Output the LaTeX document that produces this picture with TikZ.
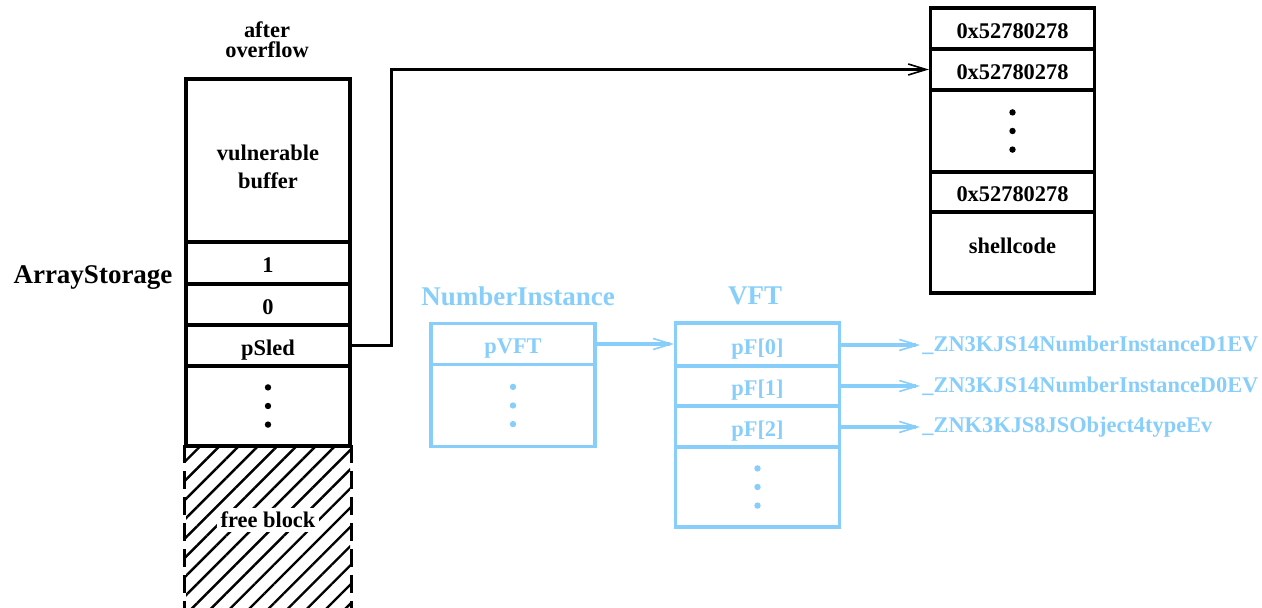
\documentclass[tikz,border=0pt]{standalone}
\usepackage{fontspec}
\setmainfont{Liberation Serif}
\usepackage{tikz}
\usetikzlibrary{arrows.meta,patterns.meta,positioning}
\definecolor{tikzsky}{RGB}{135,206,250}

\begin{document}
\begin{tikzpicture}[
        x=0.5pt, y=-0.5pt,
        cell/.style={draw, line width=1.6pt, minimum width=82pt, inner sep=0pt, align=center, text height=10pt, text depth=0pt, font=\fontsize{11.2}{14}\selectfont\bfseries},
        vcell/.style={cell, draw=tikzsky, text=tikzsky},
        title/.style={inner sep=0pt, font=\fontsize{13.5}{16}\selectfont\bfseries},
        sym/.style={anchor=west, inner sep=1pt, text=tikzsky, font=\fontsize{11.2}{14}\selectfont\bfseries},
        arrow/.style={line width=1.6pt, -{Straight Barb[length=9pt,width=5.5pt,line width=0.8pt]}},
        varrow/.style={arrow, draw=tikzsky}
    ]
        \useasboundingbox (0,0) rectangle (1262,608);

        % ArrayStorage after overflow
        \node[font=\fontsize{11.2}{10}\selectfont\bfseries, align=center] (after) at (267,40) {after\\overflow};
        \node[title] (arraystorage) at (93,278) {ArrayStorage};
        \node[cell, text height=0pt, text depth=0pt, minimum height=81.5pt] (buf) at (268,160.5) {\raisebox{-6.8pt}[0pt][0pt]{\begin{tabular}{@{}c@{}}vulnerable\\buffer\end{tabular}}};
        \node[cell, minimum height=21pt] (one) at (268,263) {1};
        \node[cell, minimum height=20.5pt] (zero) at (268,304.5) {0};
        \node[cell, minimum height=20.5pt] (psled) at (268,345.5) {pSled};
        \node[cell, minimum height=40pt] (adots) at (268,406) {};

        % free block
        \node[minimum width=82pt, minimum height=81pt, inner sep=0pt, pattern={Lines[angle=45,distance=6.8pt,line width=1.2pt]}] (free) at (268,527) {};
        \draw[line width=1.6pt, dash pattern=on 9pt off 4pt] (free.north west) -- (free.south west);
        \draw[line width=1.6pt, dash pattern=on 9pt off 4pt] (free.north east) -- (free.south east);
        \node[fill=white, inner sep=2pt, font=\fontsize{11.2}{14}\selectfont\bfseries] (freetext) at (268,520) {free block};

        % sled and shellcode
        \node[cell, minimum height=20.5pt] (sled1) at (1012.5,28.5) {0x52780278};
        \node[cell, minimum height=20.5pt] (sled2) at (1012.5,69.5) {0x52780278};
        \node[cell, minimum height=41pt] (rdots) at (1012.5,131) {};
        \node[cell, minimum height=20pt] (sled3) at (1012.5,192) {0x52780278};
        \node[cell, minimum height=40.5pt] (shell) at (1012.5,252.5) {\raisebox{4.6pt}{shellcode}};

        % NumberInstance
        \node[title, text=tikzsky] (nititle) at (518,296) {NumberInstance};
        \node[vcell, minimum height=20.5pt] (pvft) at (513,344) {pVFT};
        \node[vcell, minimum height=41pt] (nidots) at (513,405.5) {};

        % VFT
        \node[title, text=tikzsky] (vfttitle) at (755,296) {VFT};
        \node[vcell, minimum height=21.5pt] (pf0) at (757.5,344.5) {pF[0]};
        \node[vcell, minimum height=20pt] (pf1) at (757.5,386) {pF[1]};
        \node[vcell, minimum height=20.5pt] (pf2) at (757.5,426.5) {pF[2]};
        \node[vcell, minimum height=40pt] (fdots) at (757.5,487) {};

        % symbols
        \node[sym] (sym0) at (920,345) {\_ZN3KJS14NumberInstanceD1EV};
        \node[sym] (sym1) at (920,386) {\_ZN3KJS14NumberInstanceD0EV};
        \node[sym] (sym2) at (920,427) {\_ZNK3KJS8JSObject4typeEv};

        % dots
        \foreach \c in {adots,rdots}
            \foreach \d in {-1,0,1}
                \fill ([yshift=\d*9.3pt]\c.center) circle (1.6pt);
        \foreach \c in {nidots,fdots}
            \foreach \d in {-1,0,1}
                \fill[tikzsky] ([yshift=\d*9.3pt]\c.center) circle (1.6pt);

        % pointers
        \draw[arrow] (psled.east) -- ++(40,0) |- (sled2.west);
        \draw[varrow] (pvft.east) -- (pvft.east -| pf0.west);
        \draw[varrow] (pf0.east |- sym0.west) -- (sym0.west);
        \draw[varrow] (pf1.east |- sym1.west) -- (sym1.west);
        \draw[varrow] (pf2.east |- sym2.west) -- (sym2.west);
    \end{tikzpicture}
\end{document}
